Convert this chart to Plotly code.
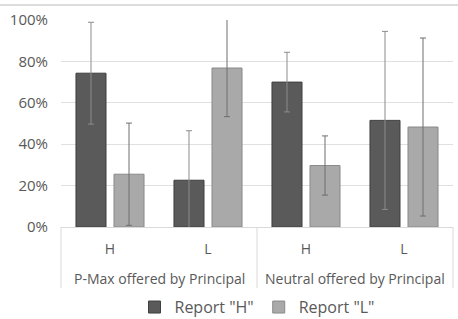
import plotly.graph_objects as go

groups = ["P-Max offered by Principal", "P-Max offered by Principal",
          "Neutral offered by Principal", "Neutral offered by Principal"]
subcats = ["H", "L", "H", "L"]
report_h = [74.3, 22.6, 70.0, 51.5]
report_h_err = [24.6, 23.9, 14.4, 43.0]
report_l = [25.5, 76.8, 29.7, 48.3]
report_l_err = [24.7, 23.5, 14.3, 43.0]
y_ticks = [0, 20, 40, 60, 80, 100]
y_tick_text = ["0%", "20%", "40%", "60%", "80%", "100%"]

FONT = "Open Sans"
TXT = "#595959"
GRID = "#d9d9d9"

cat_keys = [g + " / " + s for g, s in zip(groups, subcats)]
group_names = list(dict.fromkeys(groups))

fig = go.Figure()
fig.add_trace(go.Bar(
    x=cat_keys, y=report_h, name='Report "H"',
    marker=dict(color="#5a5a5a", line=dict(color="#3f3f3f", width=1)),
    error_y=dict(type="data", array=report_h_err, color="#8c8c8c", thickness=1, width=3),
))
fig.add_trace(go.Bar(
    x=cat_keys, y=report_l, name='Report "L"',
    marker=dict(color="#a9a9a9", line=dict(color="#8a8a8a", width=1)),
    error_y=dict(type="data", array=report_l_err, color="#6e6e6e", thickness=1, width=3),
))

n_groups = len(group_names)
shapes = [dict(type="line", xref="paper", yref="paper", x0=-0.2, x1=1.05,
               y0=1.072, y1=1.072, line=dict(color="#d0d0d0", width=1.5))]
for i in range(n_groups + 1):
    xp = i / n_groups
    shapes.append(dict(type="line", xref="paper", yref="paper", x0=xp, x1=xp,
                       y0=0, y1=-0.295, line=dict(color=GRID, width=1)))
annotations = []
for i, g in enumerate(group_names):
    annotations.append(dict(text=g, xref="paper", yref="paper",
                            x=(i + 0.5) / n_groups, y=-0.247,
                            xanchor="center", yanchor="middle",
                            showarrow=False, font=dict(size=14, color=TXT)))

fig.update_layout(
    width=458, height=319,
    margin=dict(l=61, r=5, t=20, b=92, autoexpand=False),
    paper_bgcolor="white", plot_bgcolor="white",
    barmode="group", bargap=0.224, bargroupgap=0.21,
    font=dict(family=FONT, size=13, color=TXT),
    legend=dict(orientation="h", x=0.5, xanchor="center", y=-0.305, yanchor="top",
                font=dict(size=16, color=TXT), itemwidth=30, traceorder="normal"),
    showlegend=True,
    shapes=shapes,
    annotations=annotations,
)
fig.update_yaxes(range=[0, 100], tickvals=y_ticks, ticktext=y_tick_text,
                 gridcolor="#e0e0e0", gridwidth=1, zeroline=False,
                 showline=False, tickfont=dict(size=15, color=TXT), ticklen=0,
                 ticks="", ticklabelstandoff=12, automargin=False)
fig.update_xaxes(type="category", tickvals=cat_keys, ticktext=subcats,
                 showline=True, linecolor=GRID, linewidth=1,
                 tickfont=dict(size=14, color=TXT), ticks="", ticklabelstandoff=9,
                 automargin=False)

fig.write_html("out.html", config={"displayModeBar": False},
               post_script="document.body.style.margin='0';")
